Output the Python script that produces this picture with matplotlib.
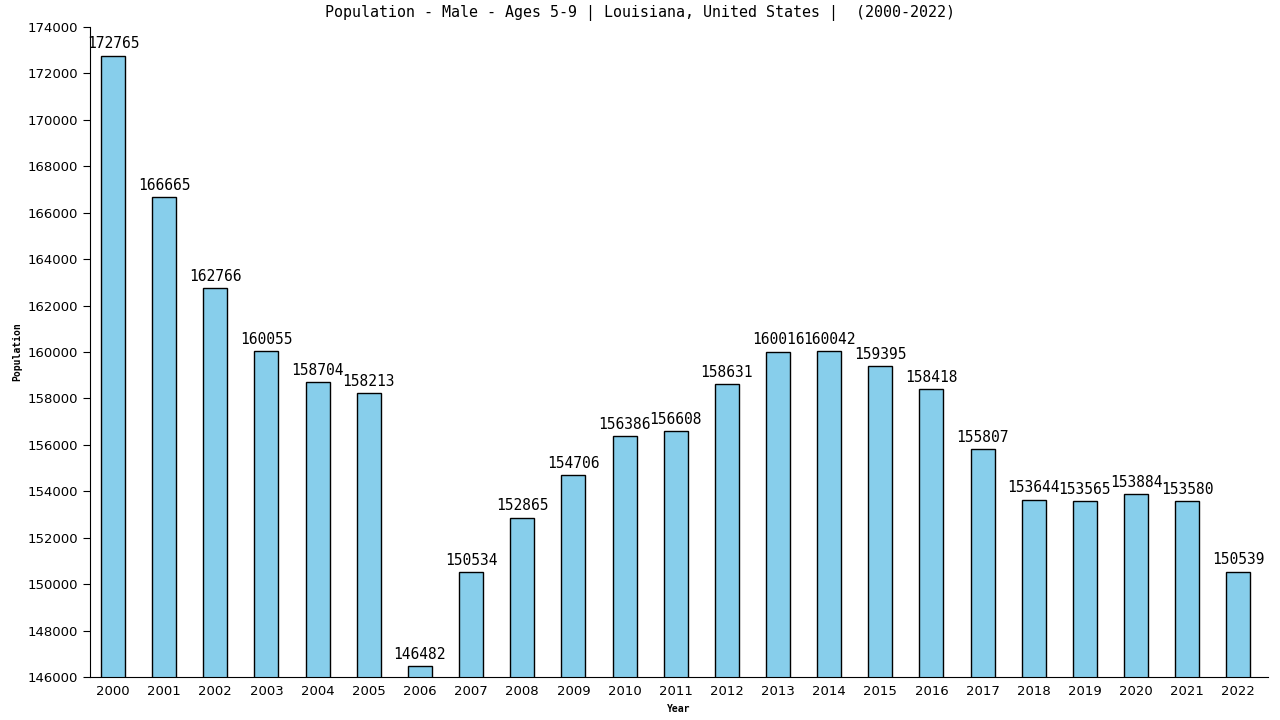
import numpy as np
import matplotlib
matplotlib.use("Agg")
import matplotlib.pyplot as plt

# ── Data ────────────────────────────────────────────────────────────────────

years = [str(y) for y in range(2000, 2023)]
population = [172765, 166665, 162766, 160055, 158704, 158213, 146482, 150534,
              152865, 154706, 156386, 156608, 158631, 160016, 160042, 159395,
              158418, 155807, 153644, 153565, 153884, 153580, 150539]

title = "Population - Male - Ages 5-9 | Louisiana, United States |  (2000-2022)"
y_ticks = list(range(146000, 174001, 2000))

# ── Plot ────────────────────────────────────────────────────────────────────

fig = plt.figure(figsize=(12.8, 7.2), dpi=100)
ax = fig.add_axes([90 / 1280, 43 / 720, 1178 / 1280, 650 / 720])

x = np.arange(len(years))
ax.bar(x, population, width=0.47, color="#87ceeb", edgecolor="black",
       linewidth=1.0)

for xi, v in zip(x, population):
    ax.text(xi, v + 180, str(v), ha="center", va="bottom",
            fontsize=10.5, family="DejaVu Sans Mono")

ax.set_ylim(146000, 174000)
ax.set_xlim(-0.45, 22.58)
ax.set_yticks(y_ticks)
ax.set_yticklabels([str(t) for t in y_ticks], fontsize=9.5, family="DejaVu Sans")
ax.set_xticks(x)
ax.set_xticklabels(years, fontsize=9.5, family="DejaVu Sans")
ax.tick_params(axis="x", length=0, pad=6)
ax.tick_params(axis="y", length=5, direction="out")

for side in ["top", "right"]:
    ax.spines[side].set_visible(False)

ax.set_xlabel("Year", fontsize=7, fontweight="bold", family="DejaVu Sans Mono")
ax.set_ylabel("Population", fontsize=7, fontweight="bold", family="DejaVu Sans Mono")
fig.text(0.5, 1 - 13 / 720, title, ha="center", va="center",
         fontsize=10.8, family="DejaVu Sans Mono")

fig.savefig("out.png", dpi=100)
